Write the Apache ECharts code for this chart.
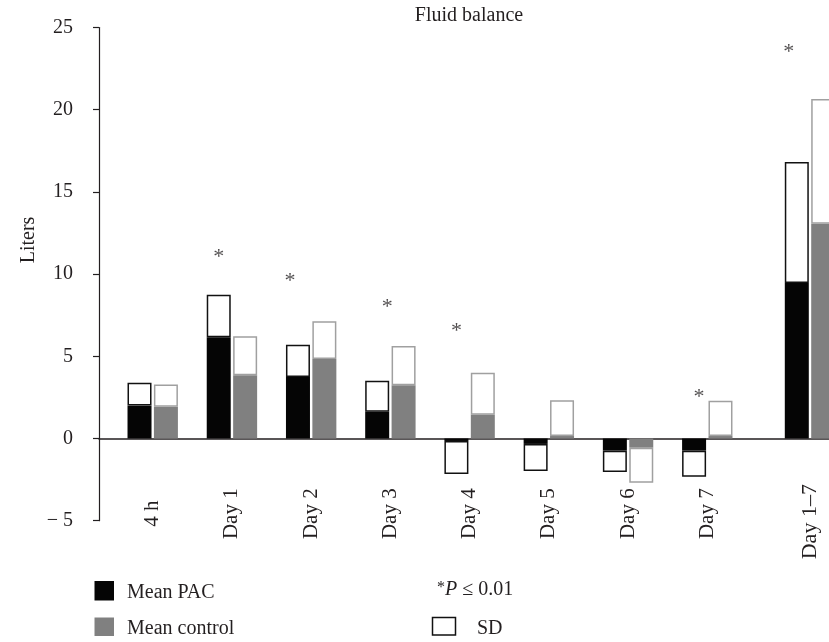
<!DOCTYPE html>
<html><head><meta charset="utf-8">
<script src="https://cdn.jsdelivr.net/npm/echarts@6/dist/echarts.min.js"></script>
<style>html,body{margin:0;padding:0;background:#fff}#c{width:829px;height:642px}</style>
</head><body><div id="c"></div>
<script>
// ---- data ----
const categories = ['4 h', 'Day 1', 'Day 2', 'Day 3', 'Day 4', 'Day 5', 'Day 6', 'Day 7', 'Day 1–7'];
const pacMean  = [2.0, 6.16, 3.74, 1.63, -0.15, -0.33, -0.74, -0.74, 9.46];
const pacSD    = [1.39, 2.59, 1.97, 1.89, 2.01, 1.65, 1.30, 1.58, 7.36];
const ctrlMean = [1.93, 3.84, 4.84, 3.24, 1.45, 0.15, -0.56, 0.15, 13.07];
const ctrlSD   = [1.35, 2.38, 2.29, 2.39, 2.55, 2.17, 2.13, 2.15, 7.58];
const starLevel = [null, 11.34, 9.90, 8.26, 6.8, null, null, 2.83, 23.8];
const yMin = -5, yMax = 25, yStep = 5;

// ---- style ----
const FONT = 'Liberation Serif';
const INK = '#231f20';
const BAR_W = 24;
const starDx = [0, 0, -8, 10, 0, 0, 0, 5, -8];   // asterisk nudge (px)

function sdStack(mean, sd) { return mean.map((m, i) => (m < 0 ? -sd[i] : sd[i])); }
const pacSDs = sdStack(pacMean, pacSD);
const ctrlSDs = sdStack(ctrlMean, ctrlSD);

const parts = [[0, 8], [8, 9]];
const series = [];
parts.forEach((p, k) => {
  const gi = k + 1;
  const sl = a => a.slice(p[0], p[1]);
  const common = { type: 'bar', xAxisIndex: gi, yAxisIndex: gi, barWidth: BAR_W, barGap: '10%', animation: false };
  series.push(Object.assign({}, common, { name: 'Mean PAC', stack: 'pac' + gi, data: sl(pacMean), itemStyle: { color: '#050505' } }));
  series.push(Object.assign({}, common, { name: 'SD', stack: 'pac' + gi, data: sl(pacSDs), itemStyle: { color: '#ffffff', borderColor: '#111111', borderWidth: 1.5 } }));
  series.push(Object.assign({}, common, { name: 'Mean control', stack: 'ctrl' + gi, data: sl(ctrlMean), itemStyle: { color: '#808080' } }));
  series.push(Object.assign({}, common, { name: 'SD', stack: 'ctrl' + gi, data: sl(ctrlSDs), itemStyle: { color: '#ffffff', borderColor: '#a0a0a0', borderWidth: 1.5 } }));
  series.push({
    type: 'scatter', xAxisIndex: gi, yAxisIndex: gi, animation: false, silent: true,
    symbolSize: 1, itemStyle: { color: 'rgba(0,0,0,0)' },
    data: sl(starLevel).map((v, i) => v == null ? '-' : {
      value: v,
      label: { show: true, formatter: '*', position: 'inside', offset: [-(BAR_W * 1.1) / 2 + starDx[p[0] + i], 5],
               fontFamily: FONT, fontSize: 22, color: INK }
    })
  });
});

const yAxisBase = { type: 'value', min: yMin, max: yMax, interval: yStep };
const gridBase = { top: 27.5, bottom: 121.3, outerBoundsMode: 'none', containLabel: false };
const xLabel = { interval: 0, rotate: 90, align: 'center', verticalAlign: 'middle', fontFamily: FONT, fontSize: 21, color: INK };
const option = {
  animation: false,
  grid: [
    Object.assign({ left: 99, right: 0 }, gridBase),
    Object.assign({ left: 113.1, width: 633.8 }, gridBase),
    Object.assign({ left: 770.4, width: 79.2 }, gridBase)
  ],
  xAxis: [
    { gridIndex: 0, type: 'value', min: 0, max: 1, axisLine: { show: true, onZero: true, lineStyle: { color: INK, width: 1.5 } },
      axisTick: { show: false }, axisLabel: { show: false }, splitLine: { show: false } },
    { gridIndex: 1, type: 'category', data: categories.slice(0, 8), axisLine: { show: false, onZero: false },
      axisTick: { show: false }, splitLine: { show: false },
      axisLabel: Object.assign({ margin: -7 }, xLabel) },
    { gridIndex: 2, type: 'category', data: categories.slice(8), axisLine: { show: false, onZero: false },
      axisTick: { show: false }, splitLine: { show: false },
      axisLabel: Object.assign({ margin: 1 }, xLabel, { fontSize: 22 }) }
  ],
  yAxis: [
    Object.assign({ gridIndex: 0, axisLine: { show: true, lineStyle: { color: INK, width: 1.2 } },
      axisTick: { show: true, inside: false, length: 6, lineStyle: { color: INK, width: 1.2 } },
      splitLine: { show: false },
      axisLabel: { margin: 26, fontFamily: FONT, fontSize: 20, color: INK,
        formatter: v => (v < 0 ? '\u2212 ' + Math.abs(v) : String(v)) } }, yAxisBase),
    Object.assign({ gridIndex: 1, show: false, splitLine: { show: false } }, yAxisBase),
    Object.assign({ gridIndex: 2, show: false, splitLine: { show: false } }, yAxisBase)
  ],
  graphic: [
    { type: 'text', x: 469, y: 16, style: { text: 'Fluid balance', font: '20px "Liberation Serif"', fill: INK, align: 'center', verticalAlign: 'middle' } },
    { type: 'text', x: 29, y: 240, rotation: Math.PI / 2, style: { text: 'Liters', font: '20px "Liberation Serif"', fill: INK, align: 'center', verticalAlign: 'middle' } },
    { type: 'rect', shape: { x: 94.5, y: 581, width: 19.5, height: 19.5 }, style: { fill: '#050505' } },
    { type: 'text', x: 127, y: 593, style: { text: 'Mean PAC', font: '20px "Liberation Serif"', fill: INK, align: 'left', verticalAlign: 'middle' } },
    { type: 'rect', shape: { x: 94.5, y: 617.5, width: 19.5, height: 18.5 }, style: { fill: '#808080' } },
    { type: 'text', x: 127, y: 629, style: { text: 'Mean control', font: '20px "Liberation Serif"', fill: INK, align: 'left', verticalAlign: 'middle' } },
    { type: 'text', x: 437, y: 590, style: {
        text: '{a|*}{p|P}{b| ≤ 0.01}', align: 'left', verticalAlign: 'middle',
        rich: { a: { font: '16px "Liberation Serif"', fill: INK, verticalAlign: 'top' },
                p: { font: 'italic 20px "Liberation Serif"', fill: INK },
                b: { font: '20px "Liberation Serif"', fill: INK } } } },
    { type: 'rect', shape: { x: 432.5, y: 617.5, width: 23, height: 17.5 }, style: { fill: '#fff', stroke: '#111', lineWidth: 1.5 } },
    { type: 'text', x: 477, y: 629, style: { text: 'SD', font: '20px "Liberation Serif"', fill: INK, align: 'left', verticalAlign: 'middle' } }
  ],
  series: series
};
const chart = echarts.init(document.getElementById('c'), null, { renderer: 'canvas' });
chart.setOption(option);
</script>
</body></html>
